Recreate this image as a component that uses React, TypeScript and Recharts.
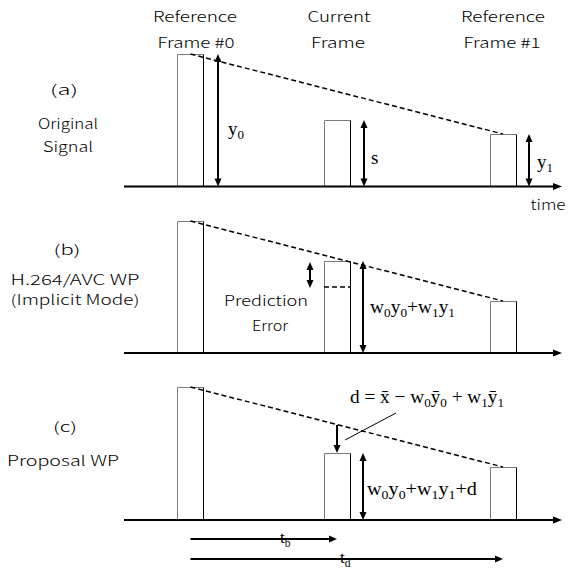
import React from 'react';
import { ComposedChart, Bar, Line, XAxis, YAxis, ReferenceLine } from 'recharts';

// time position of each frame (ref frame #0 = 0)
const FRAME_TIMES = [0, 146.5, 312.5];
const FRAME_TITLE_1 = ['Reference', 'Current', 'Reference'];
const FRAME_TITLE_2 = ['Frame #0', 'Frame', 'Frame #1'];

// signal level per frame, one list per panel
const ORIGINAL_SIGNAL = [132.5, 66.5, 52.5];
const IMPLICIT_WP = [132, 92, 52];
const PROPOSAL_WP = [133, 67, 53];

// extra levels used by the annotations
const ORIGINAL_IN_B = 66;        // true current level shown dashed in (b)
const TREND_AT_CURRENT_C = 95;   // dashed trend line above current frame in (c)

const TIME_RANGE = [-66.5, 371.5];

const GOTHIC = '"Noto Sans CJK JP", "Noto Sans", sans-serif';
const SERIF = '"Liberation Serif", "DejaVu Serif", serif';

const toRows = (levels: number[]) =>
  FRAME_TIMES.map((t, i) => ({ t, level: levels[i], trend: i === 1 ? null : levels[i] }));

// bar outline: grey left/top, black right edge
const FrameBar = (p: any) => {
  const x = Math.round(p.x) + 0.5;
  const y = Math.round(p.y) + 0.5;
  const w = Math.round(p.width);
  const h = p.height;
  return (
    <g>
      <path d={`M${x},${y + h} V${y} H${x + w}`} stroke="#7a7a7a" fill="none" />
      <path d={`M${x + w},${y} V${y + h}`} stroke="#000" fill="none" />
    </g>
  );
};

const arrowShape = (start: boolean, end: boolean, sw = 2, len = 8, half = 3.5) => (p: any) => {
  const { x1, y1, x2, y2 } = p;
  const L = Math.hypot(x2 - x1, y2 - y1) || 1;
  const ux = (x2 - x1) / L;
  const uy = (y2 - y1) / L;
  const head = (tx: number, ty: number, dx: number, dy: number) => {
    const bx = tx - dx * len;
    const by = ty - dy * len;
    return `${tx},${ty} ${bx - dy * half},${by + dx * half} ${bx + dy * half},${by - dx * half}`;
  };
  return (
    <g>
      <line
        x1={start ? x1 + ux * len * 0.7 : x1}
        y1={start ? y1 + uy * len * 0.7 : y1}
        x2={end ? x2 - ux * len * 0.7 : x2}
        y2={end ? y2 - uy * len * 0.7 : y2}
        stroke="#000"
        strokeWidth={sw}
      />
      {start && <polygon points={head(x1, y1, -ux, -uy)} fill="#000" />}
      {end && <polygon points={head(x2, y2, ux, uy)} fill="#000" />}
    </g>
  );
};

const Txt = ({ x, y, w, children, size = 14, font = GOTHIC, anchor = 'middle' }: any) => (
  <text
    x={x}
    y={y}
    textAnchor={anchor}
    fontSize={size}
    fontFamily={font}
    fontWeight={300}
    textLength={w}
    lengthAdjust="spacingAndGlyphs"
    fill="#000"
  >
    {children}
  </text>
);

// serif formula with subscripts, parts: [text, isSub]
const Formula = ({ x, y, w, parts, size = 19 }: any) => {
  let sub = false;
  return (
    <text x={x} y={y} fontSize={size} fontFamily={SERIF} fill="#000" textLength={w} lengthAdjust="spacingAndGlyphs">
      {parts.map(([s, isSub]: [string, boolean], i: number) => {
        const dy = isSub && !sub ? 4 : !isSub && sub ? -4 : 0;
        sub = isSub;
        return (
          <tspan key={i} dy={dy} fontSize={isSub ? size * 0.68 : size}>
            {s}
          </tspan>
        );
      })}
    </text>
  );
};

const Panel = ({ top, height, base, levels, children }: any) => (
  <div style={{ position: 'absolute', left: 0, top }}>
    <ComposedChart
      width={575}
      height={height}
      data={toRows(levels)}
      margin={{ top: 0, right: 13, bottom: 0, left: 124 }}
    >
      <XAxis type="number" dataKey="t" domain={TIME_RANGE} hide allowDataOverflow />
      <YAxis type="number" domain={[base - height, base]} hide allowDataOverflow />
      <Bar dataKey="level" barSize={26} shape={FrameBar} isAnimationActive={false} />
      <Line
        dataKey="trend"
        stroke="#000"
        strokeWidth={1.5}
        strokeDasharray="5 3"
        dot={false}
        connectNulls
        isAnimationActive={false}
      />
      {/* time axis */}
      <ReferenceLine
        segment={[{ x: TIME_RANGE[0], y: 0 }, { x: TIME_RANGE[1], y: 0 }]}
        shape={arrowShape(false, true, 2, 9, 3.5)}
        ifOverflow="visible"
      />
      {children}
    </ComposedChart>
  </div>
);

const vArrow = (t: number, from: number, to: number, start = true) => (
  <ReferenceLine
    segment={[{ x: t, y: from }, { x: t, y: to }]}
    shape={arrowShape(start, true)}
    ifOverflow="visible"
  />
);

export default function App() {
  return (
    <div style={{ position: 'absolute', left: 0, top: 0, width: 575, height: 572, background: '#fff' }}>
      {/* (a) original signal */}
      <Panel top={0} height={215} base={186.5} levels={ORIGINAL_SIGNAL}>
        {vArrow(27.5, 0, ORIGINAL_SIGNAL[0])}
        {vArrow(173.5, 0, ORIGINAL_SIGNAL[1])}
        {vArrow(338.5, 0, ORIGINAL_SIGNAL[2])}
        <Txt x={195} y={22} w={84}>{FRAME_TITLE_1[0]}</Txt>
        <Txt x={196} y={48} w={77}>{FRAME_TITLE_2[0]}</Txt>
        <Txt x={339} y={22} w={63}>{FRAME_TITLE_1[1]}</Txt>
        <Txt x={338} y={48} w={54}>{FRAME_TITLE_2[1]}</Txt>
        <Txt x={503} y={22} w={84}>{FRAME_TITLE_1[2]}</Txt>
        <Txt x={502} y={48} w={77}>{FRAME_TITLE_2[2]}</Txt>
        <Txt x={64} y={95} w={28}>(a)</Txt>
        <Txt x={68} y={129} w={60}>Original</Txt>
        <Txt x={68} y={152} w={50}>Signal</Txt>
        <Txt x={548} y={210} w={35}>time</Txt>
        <Formula x={228} y={135} parts={[['y', false], ['0', true]]} />
        <Formula x={371} y={164} parts={[['s', false]]} />
        <Formula x={537} y={168} parts={[['y', false], ['1', true]]} />
      </Panel>

      {/* (b) H.264/AVC implicit WP */}
      <Panel top={215} height={155} base={138} levels={IMPLICIT_WP}>
        <ReferenceLine
          segment={[{ x: 133.5, y: ORIGINAL_IN_B }, { x: 159.5, y: ORIGINAL_IN_B }]}
          stroke="#000"
          strokeWidth={1.5}
          strokeDasharray="5 3"
          ifOverflow="visible"
        />
        {vArrow(119.5, ORIGINAL_IN_B - 1, IMPLICIT_WP[1] - 1)}
        {vArrow(172.5, 0, IMPLICIT_WP[1])}
        <Txt x={67} y={40} w={27}>(b)</Txt>
        <Txt x={75} y={70} w={129}>H.264/AVC WP</Txt>
        <Txt x={75} y={90} w={129}>(Implicit Mode)</Txt>
        <Txt x={266} y={91} w={84}>Prediction</Txt>
        <Txt x={270} y={116} w={36}>Error</Txt>
        <Formula
          x={370}
          y={98}
          w={85}
          parts={[['w', false], ['0', true], ['y', false], ['0', true], ['+w', false], ['1', true], ['y', false], ['1', true]]}
        />
      </Panel>

      {/* (c) proposal WP */}
      <Panel top={370} height={202} base={150} levels={PROPOSAL_WP}>
        {vArrow(FRAME_TIMES[1], TREND_AT_CURRENT_C, PROPOSAL_WP[1], false)}
        {vArrow(172.5, 0, PROPOSAL_WP[1])}
        <ReferenceLine
          segment={[{ x: 205.5, y: 107 }, { x: 154.5, y: 80 }]}
          stroke="#000"
          strokeWidth={1}
          ifOverflow="visible"
        />
        <ReferenceLine
          segment={[{ x: FRAME_TIMES[0], y: -19 }, { x: FRAME_TIMES[1], y: -19 }]}
          shape={arrowShape(false, true)}
          ifOverflow="visible"
        />
        <ReferenceLine
          segment={[{ x: FRAME_TIMES[0], y: -39 }, { x: FRAME_TIMES[2], y: -39 }]}
          shape={arrowShape(false, true)}
          ifOverflow="visible"
        />
        <Txt x={65} y={62} w={24}>(c)</Txt>
        <Txt x={63} y={96} w={112}>Proposal WP</Txt>
        <Formula
          x={350}
          y={33}
          w={154}
          parts={[
            ['d = x\u0304 \u2212 w', false], ['0', true], ['\u0233', false], ['0', true],
            [' + w', false], ['1', true], ['\u0233', false], ['1', true],
          ]}
        />
        <Formula
          x={367}
          y={125}
          w={110}
          parts={[['w', false], ['0', true], ['y', false], ['0', true], ['+w', false], ['1', true], ['y', false], ['1', true], ['+d', false]]}
        />
        <Formula x={280} y={173} size={17} parts={[['t', false], ['b', true]]} />
        <Formula x={340} y={193} size={17} parts={[['t', false], ['d', true]]} />
      </Panel>
    </div>
  );
}
